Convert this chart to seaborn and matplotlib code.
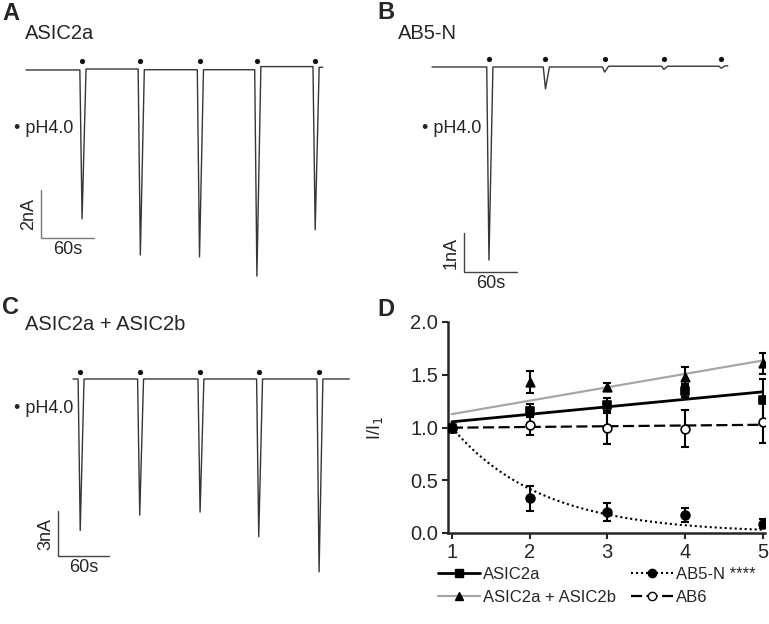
import numpy as np
import pandas as pd
import matplotlib
matplotlib.use('Agg')
import matplotlib.pyplot as plt
import seaborn as sns
from matplotlib.lines import Line2D

# ---- panel A-C traces: spike times (s) and peak amplitudes (nA) ----
a_spike_t = [61, 127, 194, 259, 325]
a_amp = [6.2, 7.75, 7.8, 8.6, 6.8]
a_base = [-0.04, 0.0, -0.03, -0.03, 0.1, 0.07]
a_end = 336

b_spike_t = [62, 126, 193, 260, 325]
b_amp = [4.95, 0.56, 0.13, 0.08, 0.05]
b_base = [0.0, 0.0, 0.0, 0.02, 0.02, 0.03]
b_end = 335

c_spike_t = [6, 76, 147, 216, 287]
c_amp = [9.9, 8.9, 8.7, 10.3, 12.6]
c_base = [0.0, 0.0, 0.0, 0.0, 0.0, 0.0]
c_end = 325

# ---- panel D: normalised current I/I1 per pulse ----
pulses = [1, 2, 3, 4, 5]
asic2a_mean = [1.0, 1.16, 1.21, 1.35, 1.26]
asic2a_err = [0, 0.06, 0.07, 0.06, 0.20]
asic2ab_mean = [1.0, 1.43, 1.385, 1.48, 1.61]
asic2ab_err = [0, 0.105, 0.035, 0.09, 0.10]
ab5n_mean = [1.0, 0.33, 0.20, 0.17, 0.09]
ab5n_err = [0, 0.12, 0.085, 0.065, 0.045]
ab6_mean = [1.0, 1.02, 1.0, 0.99, 1.05]
ab6_err = [0, 0.09, 0.16, 0.175, 0.20]

W, H = 769, 624
TRACE = '#363636'


def build_trace(spike_t, amps, base, t_end, fall=2.5, rise=4.5):
    t, y = [0.0], [base[0]]
    for k, (s, a) in enumerate(zip(spike_t, amps)):
        t += [s, s + fall, s + fall + rise]
        y += [base[k], base[k] - a, base[k + 1]]
    t.append(t_end)
    y.append(base[-1])
    return pd.DataFrame({'t': t, 'i': y})


def trace_axes(box, t0_px, base_px, px_per_s, px_per_na):
    left, top, right, bottom = box
    ax = fig.add_axes([left / W, 1 - bottom / H, (right - left) / W, (bottom - top) / H])
    ax.set_xlim((left - t0_px) / px_per_s, (right - t0_px) / px_per_s)
    ax.set_ylim(-(bottom - base_px) / px_per_na, (base_px - top) / px_per_na)
    ax.axis('off')
    return ax


def draw_trace(ax, spike_t, amps, base, t_end, dot_y, bar_t, bar_i, bar_na, bar_col):
    df = build_trace(spike_t, amps, base, t_end)
    sns.lineplot(data=df, x='t', y='i', sort=False, estimator=None,
                 color=TRACE, lw=1.0, ax=ax)
    ax.scatter(np.array(spike_t) + 2.5, [dot_y] * len(spike_t), s=14, color='#111111',
               zorder=5, linewidths=0)
    # scale bar
    ax.plot([bar_t, bar_t, bar_t + 60], [bar_i + bar_na, bar_i, bar_i],
            color=bar_col, lw=1.0, solid_joinstyle='miter')
    ax.annotate(f'{bar_na:g}nA', (bar_t, bar_i + bar_na / 2), xytext=(-4, 0),
                textcoords='offset pixels', rotation=90, ha='right', va='center', fontsize=13)
    ax.annotate('60s', (bar_t + 30, bar_i), xytext=(0, -3),
                textcoords='offset pixels', ha='center', va='top', fontsize=13)


sns.set_style('ticks')
plt.rcParams['font.family'] = ['Liberation Sans', 'DejaVu Sans']

fig = plt.figure(figsize=(W / 100, H / 100), dpi=100)

axA = trace_axes((0, 40, 385, 295), 26, 69, 0.883, 24)
draw_trace(axA, a_spike_t, a_amp, a_base, a_end, 0.33, 17, -7.04, 2, '#7a7a7a')

axB = trace_axes((385, 40, 769, 295), 432, 67, 0.883, 39)
draw_trace(axB, b_spike_t, b_amp, b_base, b_end, 0.2, 36, -5.26, 1, '#444444')

axC = trace_axes((0, 340, 385, 620), 73, 379, 0.85, 15.3)
draw_trace(axC, c_spike_t, c_amp, c_base, c_end, 0.46, -17.6, -11.6, 3, '#444444')

# panel letters and titles
for lab, x, y in [('A', 2, 20), ('B', 377, 19), ('C', 2, 314), ('D', 377, 316)]:
    fig.text(x / W, 1 - y / H, lab, fontsize=17, fontweight='bold', va='baseline')
for lab, x, y in [('ASIC2a', 25, 39), ('AB5-N', 398, 39), ('ASIC2a + ASIC2b', 25, 330)]:
    fig.text(x / W, 1 - y / H, lab, fontsize=14.5, va='baseline')
for x, y in [(14, 133), (422, 133), (14, 413)]:
    fig.text(x / W, 1 - y / H, '\u2022 pH4.0', fontsize=13, va='baseline')

# ---- panel D ----
axD = fig.add_axes([448 / W, 1 - 533 / H, (765 - 448) / W, (533 - 322) / H])
x = np.array(pulses, dtype=float)
xs = np.linspace(1, 5, 200)

# linear fits
for mean, col, lw, ls in [(asic2a_mean, 'black', 2.0, '-'),
                          (asic2ab_mean, '#a6a6a6', 1.6, '-'),
                          (ab6_mean, 'black', 1.6, (0, (5, 2)))]:
    p = np.polyfit(x, mean, 1)
    fit = pd.DataFrame({'x': xs, 'y': np.polyval(p, xs)})
    sns.lineplot(data=fit, x='x', y='y', color=col, lw=lw, linestyle=ls, ax=axD, zorder=2)

# one-phase decay fit for AB5-N, y = exp(-k (x-1))
ks = np.linspace(0.1, 3, 2901)
sse = [np.sum((np.array(ab5n_mean) - np.exp(-k * (x - 1))) ** 2) for k in ks]
k_best = ks[int(np.argmin(sse))]
fit = pd.DataFrame({'x': xs, 'y': np.exp(-k_best * (xs - 1))})
sns.lineplot(data=fit, x='x', y='y', color='black', lw=1.5, linestyle=(0, (1, 1.4)),
             ax=axD, zorder=2)

series = [
    (asic2a_mean, asic2a_err, 's', 'black', 'black', 32),
    (asic2ab_mean, asic2ab_err, '^', 'black', 'black', 38),
    (ab6_mean, ab6_err, 'o', 'white', 'black', 40),
    (ab5n_mean, ab5n_err, 'o', 'black', 'black', 40),
]
for mean, err, mk, fc, ec, s in series:
    axD.errorbar(x[1:], mean[1:], yerr=err[1:], fmt='none', ecolor='black',
                 elinewidth=1.5, capsize=3, capthick=1.5, zorder=3)
    d = pd.DataFrame({'x': x, 'y': mean})
    sns.scatterplot(data=d, x='x', y='y', marker=mk, s=s, color=fc, edgecolor=ec,
                    linewidth=1.2, ax=axD, zorder=4)

axD.set_xlim(0.95, 5.03)
axD.set_ylim(0, 2.0)
axD.set_xticks(pulses)
axD.set_yticks([0, 0.5, 1.0, 1.5, 2.0])
axD.set_yticklabels(['0.0', '0.5', '1.0', '1.5', '2.0'])
axD.tick_params(labelsize=14.5, width=1.5, length=4, pad=3)
axD.set_xlabel('')
axD.set_ylabel('I/I$_1$', fontsize=13)
axD.yaxis.set_label_coords(-0.2, 0.5)
sns.despine(ax=axD)
for sp in ['left', 'bottom']:
    axD.spines[sp].set_linewidth(1.8)

handles = [
    Line2D([], [], color='black', lw=2.0, marker='s', ms=6),
    Line2D([], [], color='#a6a6a6', lw=1.6, marker='^', ms=6, mfc='black', mec='black'),
    Line2D([], [], color='black', lw=1.5, ls=(0, (1, 1.4)), marker='o', ms=6),
    Line2D([], [], color='black', lw=1.6, ls=(0, (5, 2)), marker='o', ms=6, mfc='white'),
]
labels = ['ASIC2a', 'ASIC2a + ASIC2b', 'AB5-N ****', 'AB6']
fig.legend(handles, labels, loc='upper left', bbox_to_anchor=(438 / W, 1 - 567 / H),
           ncol=2, frameon=False, fontsize=12, handlelength=2.5, handletextpad=0.2,
           columnspacing=0.9, labelspacing=0.45, borderpad=0, borderaxespad=0)

fig.savefig('out.png', dpi=100)
